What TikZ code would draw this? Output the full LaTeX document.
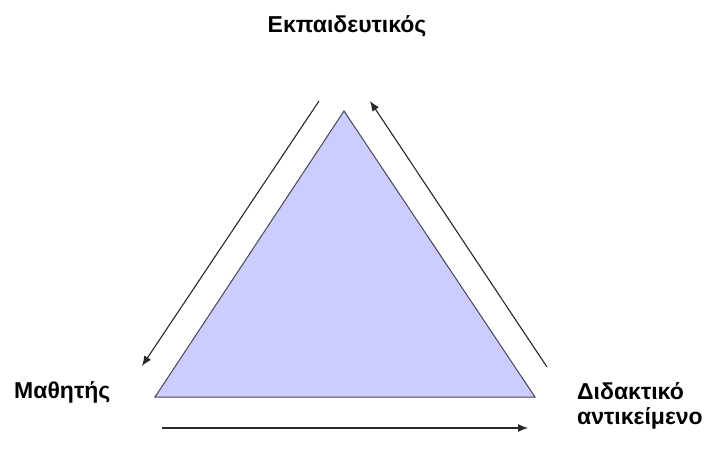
\documentclass[tikz,border=0pt]{standalone}
\usepackage{fontspec}
\setmainfont{Liberation Sans}
\usetikzlibrary{arrows.meta}
\definecolor{trifill}{RGB}{204,204,255}
\definecolor{triline}{RGB}{70,70,90}
\definecolor{arrcol}{RGB}{40,40,40}
\begin{document}
\begin{tikzpicture}[x=1pt,y=-1pt,
  lbl/.style={font=\fontsize{23}{25}\selectfont\bfseries, inner sep=0pt},
  flow/.style={draw=arrcol, line width=1.1pt, -{Latex[length=10pt,width=8pt]}}]
\useasboundingbox (0,0) rectangle (708,451);
% triangle vertices
\coordinate (top) at (344,111);
\coordinate (bl) at (155,397);
\coordinate (br) at (535,397);
\fill[trifill] (top) -- (bl) -- (br) -- cycle;
\draw[triline, line width=1pt] (top) -- (bl) -- (br) -- cycle;
% arrow end points
\coordinate (l1) at (319,101);
\coordinate (l2) at (142,366);
\coordinate (r1) at (547,367);
\coordinate (r2) at (370,101);
\coordinate (b1) at (162,428);
\coordinate (b2) at (528,428);
\draw[flow] (l1) -- (l2);
\draw[flow] (r1) -- (r2);
\draw[flow] (b1) -- (b2);
% labels
\node[lbl, anchor=base] (teacher) at (347,32) {Εκπαιδευτικός};
\node[lbl, anchor=base west] (student) at (14,398) {Μαθητής};
\node[lbl, anchor=base west] (obj1) at (577,399) {Διδακτικό};
\node[lbl, anchor=base west] (obj2) at (577,424) {αντικείμενο};
\end{tikzpicture}
\end{document}
